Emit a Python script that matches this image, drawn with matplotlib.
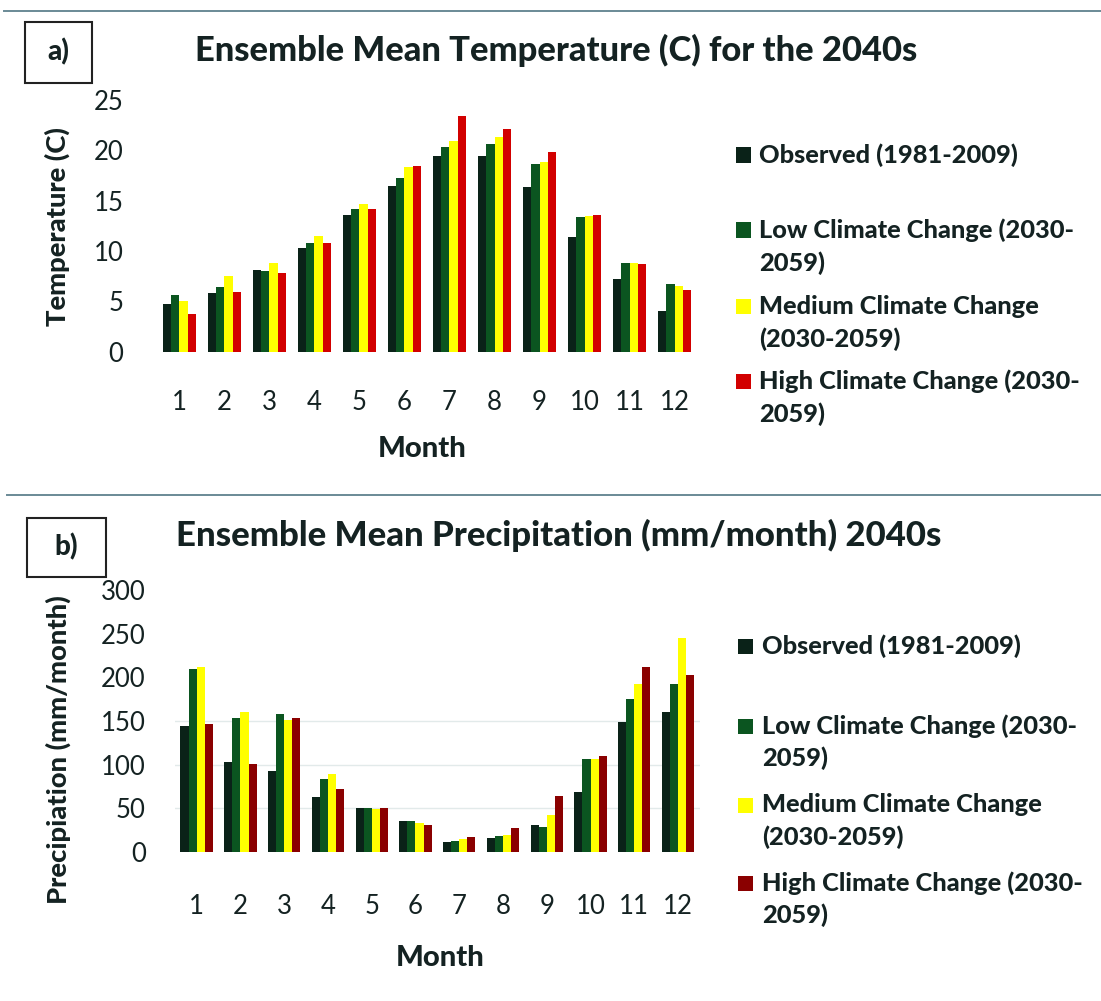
import matplotlib
matplotlib.use("Agg")
import matplotlib.pyplot as plt
from matplotlib.patches import Rectangle
from matplotlib.lines import Line2D
import numpy as np

plt.rcParams['font.family'] = ['Lato', 'DejaVu Sans']

# ---- data -------------------------------------------------------------
months = [1, 2, 3, 4, 5, 6, 7, 8, 9, 10, 11, 12]
month_labels = [str(m) for m in months]

series_names = ["Observed (1981-2009)",
                "Low Climate Change (2030-\n2059)",
                "Medium Climate Change\n(2030-2059)",
                "High Climate Change (2030-\n2059)"]

temp_observed = [4.7, 5.8, 8.1, 10.3, 13.6, 16.5, 19.4, 19.4, 16.4, 11.4, 7.2, 4.0]
temp_low      = [5.6, 6.4, 8.0, 10.8, 14.2, 17.2, 20.3, 20.6, 18.6, 13.4, 8.8, 6.7]
temp_medium   = [5.0, 7.5, 8.8, 11.5, 14.7, 18.3, 20.9, 21.3, 18.8, 13.5, 8.8, 6.5]
temp_high     = [3.7, 5.9, 7.8, 10.8, 14.2, 18.4, 23.4, 22.1, 19.8, 13.6, 8.7, 6.1]

precip_observed = [144, 103, 93, 63, 50, 36, 12, 16, 31, 69, 149, 160]
precip_low      = [209, 154, 158, 84, 50, 36, 13, 18, 29, 107, 175, 192]
precip_medium   = [212, 160, 151, 89, 49, 33, 15, 20, 42, 107, 192, 245]
precip_high     = [146, 101, 154, 72, 50, 31, 17, 27, 64, 110, 212, 203]

temp_ticks = [0, 5, 10, 15, 20, 25]
precip_ticks = [0, 50, 100, 150, 200, 250, 300]

# ---- style ------------------------------------------------------------
W, H = 1101, 1001
TXT = '#142222'
C_OBS = '#0a2218'
C_LOW = '#0b5520'
C_MED = '#ffff00'
C_HIGH_A = '#d20000'
C_HIGH_B = '#8a0000'
HEAVY = 'black'

fig = plt.figure(figsize=(W / 100, H / 100), dpi=100)
fig.patch.set_facecolor('white')


def fx(x):
    return x / W


def fy(y):
    return 1 - y / H


def add_axes_px(left, right, top, bottom):
    return fig.add_axes([fx(left), fy(bottom), (right - left) / W, (bottom - top) / H])


renderer = fig.canvas.get_renderer()


def fit_width(t, target, vertical=False):
    bb = t.get_window_extent(renderer)
    size = bb.height if vertical else bb.width
    t.set_fontsize(t.get_fontsize() * target / size)


def draw_panel(ax, values, colors, ticks, ymax, gridlines):
    x = np.arange(len(months))
    w = 0.185
    offsets = [-1.5 * w, -0.5 * w, 0.5 * w, 1.5 * w]
    for vals, col, off in zip(values, colors, offsets):
        ax.bar(x + off, vals, width=w, color=col, edgecolor='none', zorder=3)
    ax.set_xlim(-0.5, len(months) - 0.5)
    ax.set_ylim(0, ymax)
    ax.set_xticks(x)
    ax.set_xticklabels(month_labels)
    ax.set_yticks(ticks)
    ax.set_yticklabels([str(t) for t in ticks])
    for s in ax.spines.values():
        s.set_visible(False)
    ax.tick_params(length=0, labelsize=18.5, colors=TXT)
    if gridlines:
        for g in gridlines:
            ax.axhline(g, color='#e2eaea', lw=1.0, zorder=0)
    ax.set_facecolor('none')


# ---- frame lines ------------------------------------------------------
fig.add_artist(Line2D([fx(4), 1], [fy(10.5), fy(10.5)], color='#6a8a96', lw=1.4))
fig.add_artist(Line2D([fx(7), 1], [fy(495), fy(495)], color='#6a8a96', lw=1.4))

# ---- panel a ------------------------------------------------------------
ax_a = add_axes_px(156.7, 697.2, 100, 351.5)
draw_panel(ax_a, [temp_observed, temp_low, temp_medium, temp_high],
           [C_OBS, C_LOW, C_MED, C_HIGH_A], temp_ticks, 25, None)
ax_a.tick_params(axis='y', pad=24)
ax_a.tick_params(axis='x', pad=28)

fig.add_artist(Rectangle((fx(25), fy(83)), (92 - 25) / W, (83 - 22) / H,
                         transform=fig.transFigure, fill=False, ec='#222222', lw=1.5))
fig.text(fx(58), fy(52), 'a)', ha='center', va='center', fontsize=20,
         fontweight=HEAVY, color=TXT)
t = fig.text(fx(195), fy(50), 'Ensemble Mean Temperature (C) for the 2040s',
             ha='left', va='center', fontsize=22, fontweight=HEAVY, color=TXT)
fit_width(t, 720)
t = fig.text(fx(57), fy(227), 'Temperature (C)', rotation=90, ha='center',
             va='center', fontsize=17, fontweight=HEAVY, color=TXT)
fit_width(t, 200, vertical=True)
t = fig.text(fx(422), fy(449), 'Month', ha='center', va='center', fontsize=20,
             fontweight=HEAVY, color=TXT)
fit_width(t, 89)

# ---- panel b ------------------------------------------------------------
ax_b = add_axes_px(174.8, 699.9, 590, 852)
draw_panel(ax_b, [precip_observed, precip_low, precip_medium, precip_high],
           [C_OBS, C_LOW, C_MED, C_HIGH_B], precip_ticks, 300, [50, 100, 150])
ax_b.tick_params(axis='y', pad=21)
ax_b.tick_params(axis='x', pad=30)

fig.add_artist(Rectangle((fx(27), fy(577)), (106 - 27) / W, (577 - 518) / H,
                         transform=fig.transFigure, fill=False, ec='#222222', lw=1.5))
fig.text(fx(66), fy(547), 'b)', ha='center', va='center', fontsize=20,
         fontweight=HEAVY, color=TXT)
t = fig.text(fx(176), fy(535), 'Ensemble Mean Precipitation (mm/month) 2040s',
             ha='left', va='center', fontsize=22, fontweight=HEAVY, color=TXT)
fit_width(t, 765)
t = fig.text(fx(58), fy(750), 'Precipiation (mm/month)', rotation=90, ha='center',
             va='center', fontsize=17, fontweight=HEAVY, color=TXT)
fit_width(t, 310, vertical=True)
t = fig.text(fx(440), fy(958), 'Month', ha='center', va='center', fontsize=20,
             fontweight=HEAVY, color=TXT)
fit_width(t, 89)


# ---- legends ------------------------------------------------------------
def draw_legend(colors, sq_x, txt_x, ys, line_gap, fit_target):
    texts = []
    for name, col, y in zip(series_names, colors, ys):
        fig.add_artist(Rectangle((fx(sq_x), fy(y + 7.5)), 15 / W, 15 / H,
                                 transform=fig.transFigure, color=col, lw=0))
        lines = name.split('\n')
        for i, line in enumerate(lines):
            tt = fig.text(fx(txt_x), fy(y + i * line_gap), line, ha='left',
                          va='center', fontsize=16, fontweight=HEAVY, color=TXT)
            texts.append(tt)
    # scale every legend line by the widest one
    ref = texts[1]
    bb = ref.get_window_extent(renderer)
    scale = fit_target / bb.width
    for tt in texts:
        tt.set_fontsize(tt.get_fontsize() * scale)


draw_legend([C_OBS, C_LOW, C_MED, C_HIGH_A], 736, 759,
            [155, 230, 306.5, 381.5], 33, 314)
draw_legend([C_OBS, C_LOW, C_MED, C_HIGH_B], 738, 762,
            [646.5, 726, 805, 883], 32, 315)

fig.savefig('out.png', dpi=100, facecolor='white')
